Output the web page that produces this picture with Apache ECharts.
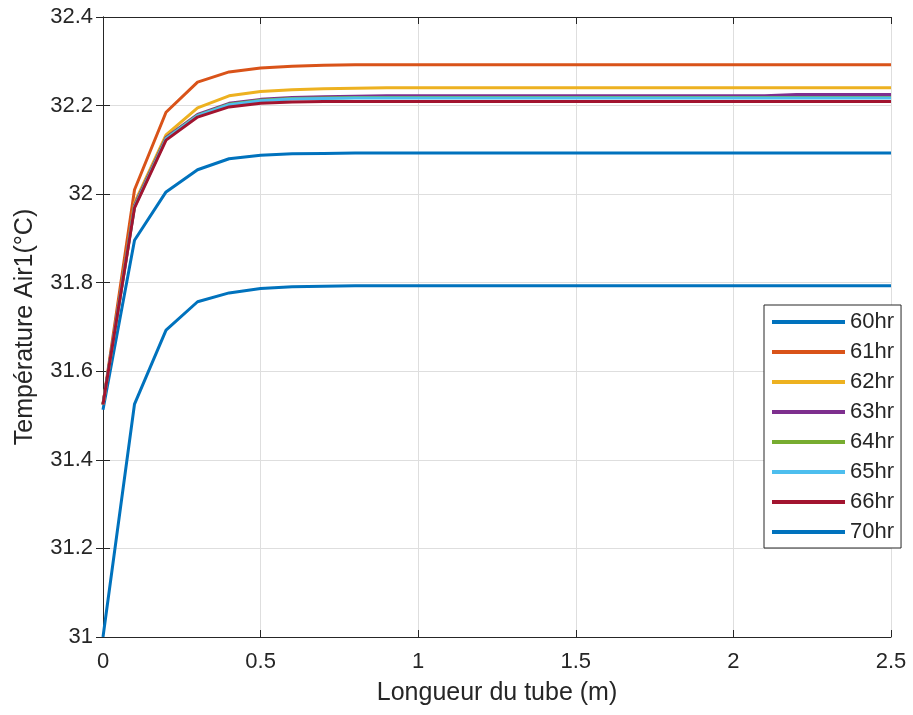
<!DOCTYPE html>
<html>
<head>
<meta charset="utf-8">
<script src="https://cdn.jsdelivr.net/npm/echarts@6/dist/echarts.min.js"></script>
<style>
  html, body { margin: 0; padding: 0; background: #fff; }
  #chart { width: 913px; height: 715px; }
</style>
</head>
<body>
<div id="chart"></div>
<script>
// longueur du tube (m), pas de 0.1
var xVals = [0, 0.1, 0.2, 0.3, 0.4, 0.5, 0.6, 0.7, 0.8, 0.9, 1.0, 1.1, 1.2, 1.3, 1.4, 1.5, 1.6, 1.7, 1.8, 1.9, 2.0, 2.1, 2.2, 2.3, 2.4, 2.5];
var names = ['60hr', '61hr', '62hr', '63hr', '64hr', '65hr', '66hr', '70hr'];
var colors = ['#0072BD', '#D95319', '#EDB120', '#7E2F8E', '#77AC30', '#4DBEEE', '#A2142F', '#0072BD'];

var t60 = [31.513, 31.896, 32.005, 32.055, 32.080, 32.088, 32.091, 32.092, 32.093, 32.093, 32.093, 32.093, 32.093, 32.093, 32.093, 32.093, 32.093, 32.093, 32.093, 32.093, 32.093, 32.093, 32.093, 32.093, 32.093, 32.093];
var t61 = [31.525, 32.010, 32.185, 32.253, 32.276, 32.285, 32.289, 32.291, 32.292, 32.292, 32.292, 32.292, 32.292, 32.292, 32.292, 32.292, 32.292, 32.292, 32.292, 32.292, 32.292, 32.292, 32.292, 32.292, 32.292, 32.292];
var t62 = [31.525, 31.980, 32.134, 32.195, 32.222, 32.232, 32.236, 32.238, 32.239, 32.240, 32.240, 32.240, 32.240, 32.240, 32.240, 32.240, 32.240, 32.240, 32.240, 32.240, 32.240, 32.240, 32.240, 32.240, 32.240, 32.240];
var t63 = [31.525, 31.975, 32.128, 32.180, 32.205, 32.214, 32.218, 32.220, 32.221, 32.222, 32.222, 32.222, 32.222, 32.222, 32.222, 32.222, 32.222, 32.222, 32.222, 32.222, 32.222, 32.222, 32.225, 32.225, 32.225, 32.225];
var t64 = [31.525, 31.972, 32.126, 32.178, 32.203, 32.212, 32.216, 32.217, 32.218, 32.218, 32.218, 32.218, 32.218, 32.218, 32.218, 32.218, 32.218, 32.218, 32.218, 32.218, 32.218, 32.218, 32.218, 32.218, 32.218, 32.218];
var t65 = [31.525, 31.971, 32.125, 32.177, 32.202, 32.211, 32.215, 32.216, 32.217, 32.217, 32.217, 32.217, 32.217, 32.217, 32.217, 32.217, 32.217, 32.217, 32.217, 32.217, 32.217, 32.217, 32.217, 32.217, 32.217, 32.217];
var t66 = [31.525, 31.969, 32.122, 32.174, 32.197, 32.205, 32.208, 32.209, 32.209, 32.209, 32.209, 32.209, 32.209, 32.209, 32.209, 32.209, 32.209, 32.209, 32.209, 32.209, 32.209, 32.209, 32.209, 32.209, 32.209, 32.209];
var t70 = [31.000, 31.526, 31.693, 31.757, 31.777, 31.787, 31.791, 31.792, 31.793, 31.793, 31.793, 31.793, 31.793, 31.793, 31.793, 31.793, 31.793, 31.793, 31.793, 31.793, 31.793, 31.793, 31.793, 31.793, 31.793, 31.793];

var allT = [t60, t61, t62, t63, t64, t65, t66, t70];
var font = '"Liberation Sans", Arial, sans-serif';
var txt = '#262626';

var chart = echarts.init(document.getElementById('chart'));

var series = allT.map(function (arr, i) {
  return {
    name: names[i],
    type: 'line',
    showSymbol: false,
    data: xVals.map(function (x, k) { return [x, arr[k]]; }),
    lineStyle: { width: 3, color: colors[i] },
    itemStyle: { color: colors[i] }
  };
});

// axe secondaire pour la boite (ticks haut / droite)
function boxAxis(pos) {
  return {
    type: 'value', position: pos, min: pos === 'top' ? 0 : 31, max: pos === 'top' ? 2.5 : 32.4,
    interval: pos === 'top' ? 0.5 : 0.2,
    axisLine: { show: true, lineStyle: { color: txt, width: 1 } },
    axisTick: { show: true, inside: true, length: 7, lineStyle: { color: txt } },
    axisLabel: { show: false },
    splitLine: { show: false }
  };
}

var option = {
  animation: false,
  color: colors,
  grid: { left: 103, right: 22, top: 17, bottom: 78 },
  legend: {
    orient: 'vertical',
    left: 764,
    top: 305,
    data: names,
    icon: 'rect',
    itemWidth: 73,
    itemHeight: 4,
    itemGap: 8,
    padding: [6, 7, 5, 8],
    borderColor: txt,
    borderWidth: 1,
    backgroundColor: '#fff',
    textStyle: { fontFamily: font, fontSize: 22, lineHeight: 22, color: txt }
  },
  xAxis: [{
    type: 'value', min: 0, max: 2.5, interval: 0.5,
    name: 'Longueur du tube (m)', nameLocation: 'middle', nameGap: 44,
    nameTextStyle: { fontFamily: font, fontSize: 25, color: txt },
    axisLine: { show: true, onZero: false, lineStyle: { color: txt, width: 1 } },
    axisTick: { show: true, inside: true, length: 7, lineStyle: { color: txt } },
    axisLabel: { fontFamily: font, fontSize: 22, color: txt, margin: 14 },
    splitLine: { show: true, lineStyle: { color: '#dedede', width: 1 } }
  }, boxAxis('top')],
  yAxis: [{
    type: 'value', min: 31, max: 32.4, interval: 0.2,
    name: 'Température Air1(°C)', nameLocation: 'middle', nameGap: 65,
    nameTextStyle: { fontFamily: font, fontSize: 25, color: txt },
    axisLine: { show: true, onZero: false, lineStyle: { color: txt, width: 1 } },
    axisTick: { show: true, inside: true, length: 7, lineStyle: { color: txt } },
    axisLabel: { fontFamily: font, fontSize: 22, color: txt, margin: 10 },
    splitLine: { show: true, lineStyle: { color: '#dedede', width: 1 } }
  }, boxAxis('right')],
  series: series
};

chart.setOption(option);
</script>
</body>
</html>
